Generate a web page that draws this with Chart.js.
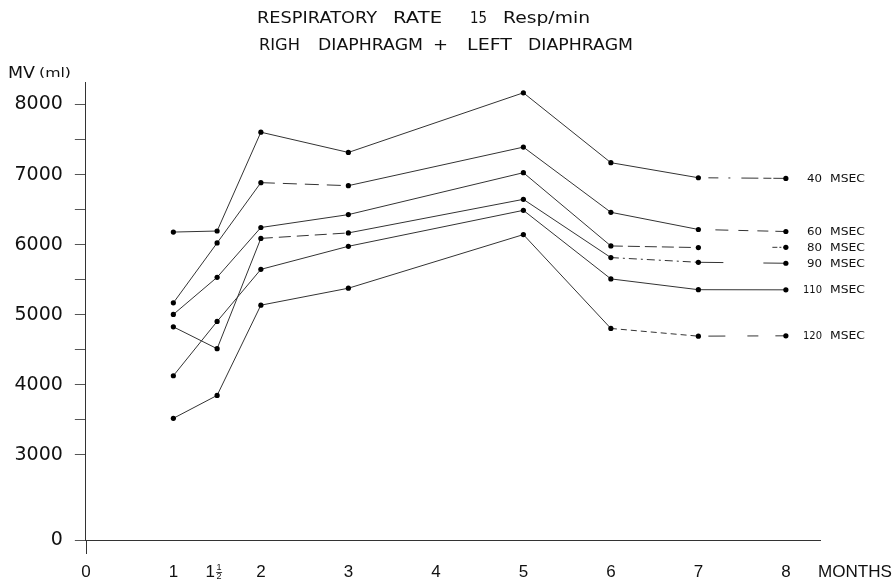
<!DOCTYPE html>
<html><head><meta charset="utf-8">
<script src="https://cdn.jsdelivr.net/npm/chart.js@4"></script>
<style>html,body{margin:0;padding:0;background:#fff}</style>
</head><body>
<canvas id="c" width="896" height="584"></canvas>
<script>
// ---- data ----
const months = [1, 1.5, 2, 3, 5, 6, 7, 8];
const mv40  = [6180, 6195, 7605, 7316, 8167, 7170, 6955, 6946];
const mv60  = [5170, 6025, 6885, 6842, 7392, 6462, 6217, 6188];
const mv80  = [5005, 5535, 6245, 6429, 7027, 5982, 5959, 5963];
const mv90  = [4828, 4516, 6090, 6168, 6647, 5816, 5749, 5735];
const mv110 = [4130, 4905, 5648, 5977, 6490, 5512, 5358, 5356];
const mv120 = [3523, 3850, 5137, 5379, 6144, 4805, 4695, 4700];
const seriesNames = ['40', '60', '80', '90', '110', '120'];
const xTickValues = [0, 1, 1.5, 2, 3, 4, 5, 6, 7, 8];
const yTickValues = [3000, 3500, 4000, 4500, 5000, 5500, 6000, 6500, 7000, 7500, 8000];
const Y_ZERO = 1787; // broken axis: where the "0" tick sits on the compressed scale

// ---- styles (segment dashes, months 1->1.5, 1.5->2, 2->3, 3->5, 5->6, 6->7, 7->8) ----
const dashStyles = [
  [[], [], [], [], [], [], [0, 10, 10, 10, 2, 11, 17, 5, 8, 2, 12, 100]],
  [[], [], [14, 8], [], [], [], [0, 17, 13, 10, 10, 9, 11, 7, 20]],
  [[], [], [], [], [], [12, 5], [0, 74, 5, 2, 2, 2, 10]],
  [[], [], [12, 6], [], [], [8, 4, 2, 4], [25, 40, 30]],
  [[], [], [], [], [], [], []],
  [[], [], [], [], [], [6, 4], [0, 10, 17, 22, 11, 17, 15]]
];
const allSeries = [mv40, mv60, mv80, mv90, mv110, mv120];

const datasets = allSeries.map((vals, s) => ({
  label: seriesNames[s] + ' MSEC',
  data: months.map((m, i) => ({x: m, y: vals[i]})),
  borderColor: '#333',
  borderWidth: 1,
  pointRadius: 2.6,
  pointBackgroundColor: '#000',
  pointBorderWidth: 0,
  fill: false,
  tension: 0,
  segment: { borderDash: c => dashStyles[s][c.p0DataIndex] }
}));

function drawFit(ctx, text, x0, x1, y, font) {
  ctx.font = font;
  const w = ctx.measureText(text).width;
  ctx.save();
  ctx.translate(x0, y);
  ctx.scale((x1 - x0) / w, 1);
  ctx.fillText(text, 0, 0);
  ctx.restore();
}

const X_LABEL_OFFSET = 32;

const annot = {
  id: 'annot',
  afterDraw(chart) {
    const ctx = chart.ctx, xs = chart.scales.x, ys = chart.scales.y;
    ctx.save();
    ctx.fillStyle = '#111';
    ctx.textAlign = 'left';
    ctx.textBaseline = 'alphabetic';
    const tf = '15px "DejaVu Sans"';
    // title line 1
    drawFit(ctx, 'RESPIRATORY', 257, 377, 23, tf);
    drawFit(ctx, 'RATE', 393, 442, 23, tf);
    drawFit(ctx, '15', 470, 487, 23, tf);
    drawFit(ctx, 'Resp/min', 503, 590, 23, tf);
    // title line 2
    drawFit(ctx, 'RIGH', 259, 300, 50, tf);
    drawFit(ctx, 'DIAPHRAGM', 318, 423, 50, tf);
    drawFit(ctx, '+', 433, 448, 50, tf);
    drawFit(ctx, 'LEFT', 467, 512, 50, tf);
    drawFit(ctx, 'DIAPHRAGM', 528, 633, 50, tf);
    // y axis title
    drawFit(ctx, 'MV', 8, 35, 78, '15px "DejaVu Sans"');
    drawFit(ctx, '(ml)', 39, 71, 77, '12.5px "DejaVu Sans"');
    // series labels at the end of each line
    allSeries.forEach((vals, s) => {
      const y = ys.getPixelForValue(vals[vals.length - 1]) + 3.5;
      const num = seriesNames[s];
      const nx0 = num.length === 3 ? 803 : 807;
      drawFit(ctx, num, nx0, 822, y, '10.5px "DejaVu Sans"');
      drawFit(ctx, 'MSEC', 830, 865, y, '10.5px "DejaVu Sans"');
    });
    // x label "1 1/2"
    const lf = '17px "Liberation Sans"';
    const px = xs.getPixelForValue(1.5);
    const ly = xs.top + X_LABEL_OFFSET;
    ctx.textAlign = 'center';
    ctx.textBaseline = 'middle';
    ctx.font = lf;
    ctx.fillText('1', px - 7, ly);
    ctx.font = '9px "Liberation Sans"';
    ctx.fillText('1', px + 2, ly - 4.5);
    ctx.fillText('2', px + 2, ly + 5);
    ctx.strokeStyle = '#111';
    ctx.lineWidth = 0.8;
    ctx.beginPath(); ctx.moveTo(px - 1, ly + 0.5); ctx.lineTo(px + 5, ly + 0.5); ctx.stroke();
    // MONTHS
    ctx.textAlign = 'left';
    ctx.textBaseline = 'middle';
    drawFit(ctx, 'MONTHS', 818, 892, ly, lf);
    // y axis extension below the zero line
    ctx.strokeStyle = '#333';
    ctx.lineWidth = 1;
    const ax = Math.round(xs.left) + 0.5;
    ctx.beginPath(); ctx.moveTo(ax, ys.bottom); ctx.lineTo(ax, ys.bottom + 14); ctx.stroke();
    ctx.restore();
  }
};

new Chart(document.getElementById('c').getContext('2d'), {
  type: 'line',
  data: { datasets },
  options: {
    responsive: false,
    animation: false,
    devicePixelRatio: 1,
    layout: { padding: { left: 2.5, right: 76, top: 82, bottom: 1.6 } },
    plugins: { legend: { display: false }, tooltip: { enabled: false } },
    scales: {
      x: {
        type: 'linear',
        min: 0,
        max: 8.39,
        afterBuildTicks: axis => { axis.ticks = xTickValues.map(v => ({value: v})); },
        ticks: {
          autoSkip: false,
          maxRotation: 0,
          padding: 0,
          color: '#111',
          font: { family: 'Liberation Sans', size: 17 },
          callback: v => (v === 1.5 ? '' : String(v))
        },
        grid: { drawOnChartArea: false, drawTicks: true, tickLength: 22, tickColor: 'rgba(0,0,0,0)' },
        border: { color: '#333', width: 1 }
      },
      y: {
        type: 'linear',
        min: Y_ZERO,
        max: 8321,
        afterBuildTicks: axis => { axis.ticks = [Y_ZERO].concat(yTickValues).map(v => ({value: v})); },
        ticks: {
          autoSkip: false,
          padding: 12,
          color: '#111',
          font: { family: 'DejaVu Sans', size: 19 },
          callback: v => (v === Y_ZERO ? '0' : (v % 1000 === 0 ? String(v) : ''))
        },
        grid: { drawOnChartArea: false, drawTicks: true, tickLength: 11, color: '#555' },
        border: { color: '#333', width: 1 }
      }
    }
  },
  plugins: [annot]
});
</script>
</body></html>
